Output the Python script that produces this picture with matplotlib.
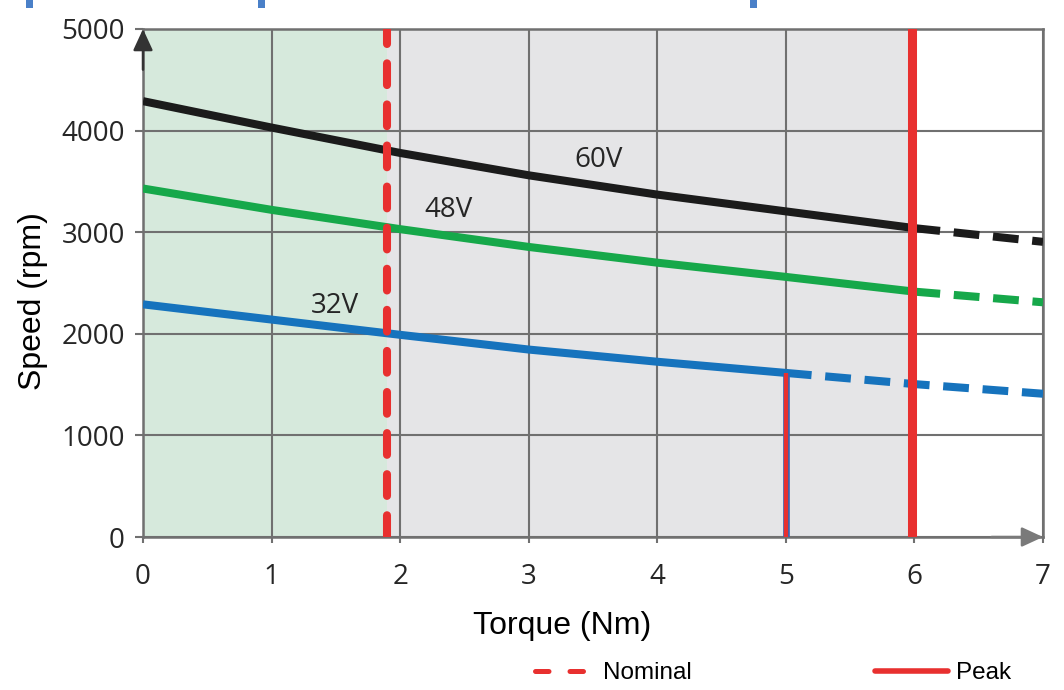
import matplotlib
matplotlib.use("Agg")
import matplotlib.pyplot as plt
from matplotlib.lines import Line2D
from matplotlib.patches import Rectangle
import numpy as np

# values
torque = [0, 1, 2, 3, 4, 5, 6, 7]
speed_60v = [4290, 4030, 3780, 3560, 3370, 3205, 3040, 2905]
speed_48v = [3430, 3220, 3030, 2855, 2700, 2560, 2415, 2310]
speed_32v = [2290, 2140, 1990, 1845, 1725, 1615, 1505, 1410]
voltage_labels = ["60V", "48V", "32V"]
label_pos = [(3.54, 3710), (2.38, 3220), (1.49, 2275)]
solid_until = [6, 6, 5]          # continuous region ends here, dashed after
nominal_torque = 1.9
peak_torque = 5.98
y_ticks = [0, 1000, 2000, 3000, 4000, 5000]
x_ticks = [0, 1, 2, 3, 4, 5, 6, 7]

curve_colors = ["#1b1b1b", "#16a84a", "#1673bd"]
red = "#e8302f"
grid_col = "#707070"

fig = plt.figure(figsize=(10.64, 6.9), dpi=100)
ax = fig.add_axes([143 / 1064, 1 - 537 / 690, 900 / 1064, 508 / 690])
ax.set_xlim(0, 7)
ax.set_ylim(0, 5000)

# operating regions
ax.axvspan(0, nominal_torque, color="#d6e9dc", zorder=0.2, lw=0)
ax.axvspan(nominal_torque, peak_torque, color="#e5e5e7", zorder=0.2, lw=0)

ax.set_axisbelow("line")
ax.grid(True, color=grid_col, lw=1.5)

# speed curves, solid then dashed
t = np.array(torque)
for spd, col, lim in zip([speed_60v, speed_48v, speed_32v], curve_colors, solid_until):
    s = np.array(spd)
    ax.plot(t[t <= lim], s[t <= lim], color=col, lw=5.8, solid_capstyle="butt", zorder=3)
    ax.plot(t[t >= lim], s[t >= lim], color=col, lw=5.8, dashes=(3.2, 1.7),
            dash_capstyle="butt", zorder=3)

# limit at 5 Nm for the 32V curve
v32_at_5 = speed_32v[torque.index(5)]
ax.vlines(5, 0, v32_at_5, color="#3a63b0", lw=4.8, zorder=4)
ax.vlines(5, 0, v32_at_5, color=red, lw=3.0, zorder=4.1)

ax.axvline(nominal_torque, color=red, lw=5.8, dashes=(2.7, 2.4),
           dash_capstyle="round", zorder=4)
ax.axvline(peak_torque, color=red, lw=6.5, zorder=4)

for txt, (x, y) in zip(voltage_labels, label_pos):
    ax.text(x, y, txt, fontsize=20, family="Open Sans", color="#262626",
            ha="center", va="center", zorder=5)

# axes styling
for sp in ax.spines.values():
    sp.set_color(grid_col)
    sp.set_linewidth(1.8)
ax.set_xticks(x_ticks)
ax.set_yticks(y_ticks)
ax.tick_params(axis="both", colors=grid_col, width=1.5, labelcolor="#262626",
               labelsize=20)
ax.tick_params(axis="x", length=4, pad=15)
ax.tick_params(axis="y", length=6, pad=7)
for lab in ax.get_xticklabels() + ax.get_yticklabels():
    lab.set_family("Open Sans")

ax.set_xlabel("Torque (Nm)", fontsize=23, family="Liberation Sans")
ax.set_ylabel("Speed (rpm)", fontsize=23, family="Liberation Sans")
ax.xaxis.set_label_coords(0.466, -0.145)
ax.yaxis.set_label_coords(-0.105, 0.465)

# axis arrows
ax.annotate("", xy=(0, 5000), xytext=(0, 4600),
            arrowprops=dict(arrowstyle="-|>,head_length=0.65,head_width=0.3",
                            color="#333333", lw=1.8, mutation_scale=20,
                            shrinkA=0, shrinkB=0),
            annotation_clip=False, zorder=6)
ax.annotate("", xy=(7, 0), xytext=(6.6, 0),
            arrowprops=dict(arrowstyle="-|>,head_length=0.65,head_width=0.3",
                            color="#7a7a7a", lw=1.8, mutation_scale=20,
                            shrinkA=0, shrinkB=0),
            annotation_clip=False, zorder=6)

# legend
nominal_handle = Line2D([], [], color=red, lw=3.6, dashes=(2.7, 4.2),
                        dash_capstyle="round")
peak_handle = Line2D([], [], color=red, lw=4.0, solid_capstyle="round")
fig.legend([nominal_handle], ["Nominal"], loc="center left",
           bbox_to_anchor=(0.503, 0.024), frameon=False, borderpad=0,
           borderaxespad=0, handlelength=2.05, handletextpad=0.75,
           prop=dict(family="Liberation Sans", size=17.5))
fig.legend([peak_handle], ["Peak"], loc="center left",
           bbox_to_anchor=(0.822, 0.024), frameon=False, borderpad=0,
           borderaxespad=0, handlelength=3.0, handletextpad=0.35,
           prop=dict(family="Liberation Sans", size=17.5))

# small blue marks along the top edge of the source image
for px in [26, 258, 750]:
    fig.add_artist(Rectangle((px / 1064, 1 - 8 / 690), 7 / 1064, 8 / 690,
                             transform=fig.transFigure, color="#4a80c8", lw=0))

fig.savefig("out.png", dpi=100)
